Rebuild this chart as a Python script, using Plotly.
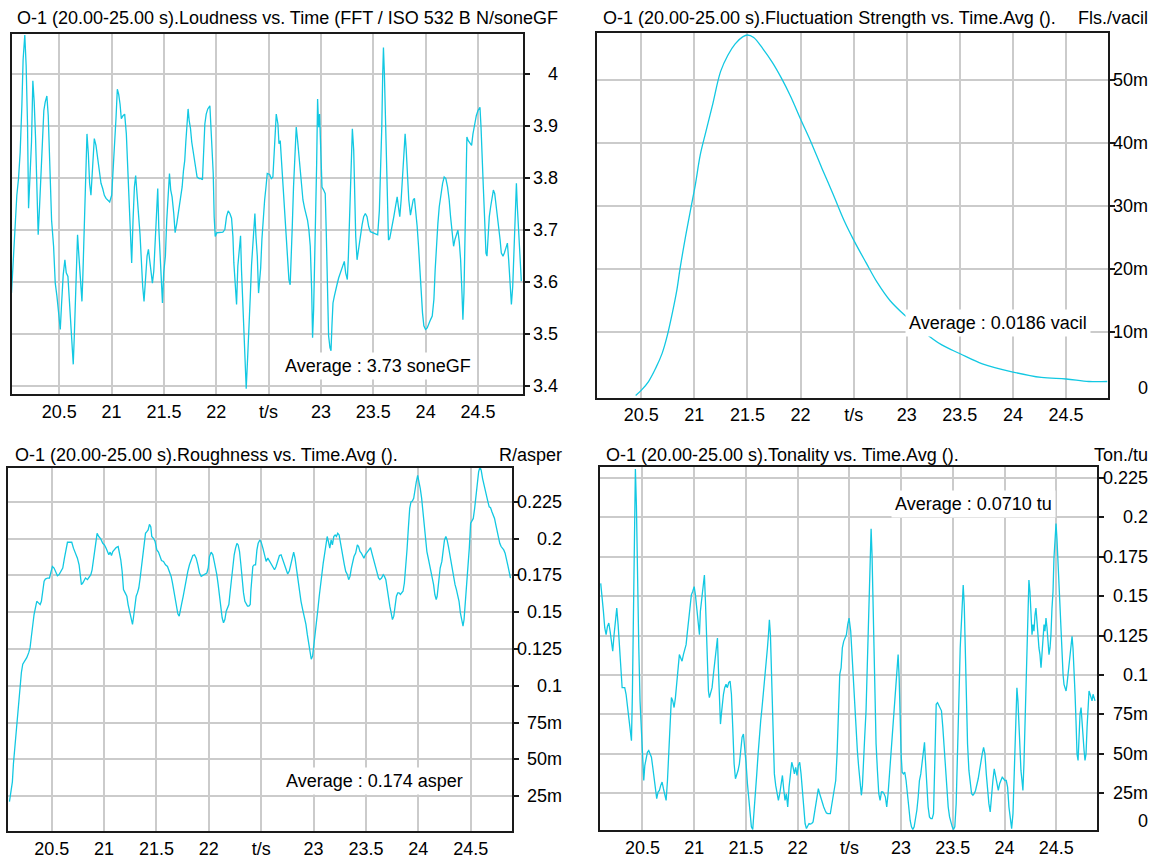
import plotly.graph_objects as go

W, H = 1158, 859
CYAN = "#12c8e2"
FONT = "Liberation Sans, Arial, sans-serif"

# ---------------- data ----------------
loud_t = [20.044,20.053,20.063,20.079,20.095,20.111,20.127,20.143,20.155,20.171,20.184,20.197,20.207,20.219,20.235,20.248,20.261,20.274,20.286,20.299,
20.312,20.325,20.341,20.353,20.366,20.382,20.395,20.411,20.427,20.446,20.462,20.478,20.494,20.510,20.522,20.538,20.554,20.567,20.583,20.599,
20.612,20.624,20.634,20.644,20.653,20.666,20.675,20.688,20.701,20.717,20.726,20.739,20.752,20.765,20.778,20.790,20.803,20.819,20.835,20.851,
20.867,20.883,20.899,20.915,20.931,20.947,20.963,20.982,21.001,21.014,21.026,21.042,21.055,21.068,21.081,21.093,21.109,21.125,21.141,21.154,
21.170,21.186,21.192,21.205,21.218,21.230,21.243,21.259,21.272,21.285,21.297,21.310,21.323,21.339,21.352,21.364,21.377,21.390,21.403,21.416,
21.428,21.441,21.451,21.463,21.476,21.486,21.498,21.514,21.527,21.540,21.553,21.565,21.578,21.594,21.607,21.623,21.639,21.655,21.674,21.687,
21.699,21.709,21.722,21.731,21.741,21.754,21.766,21.779,21.792,21.805,21.817,21.837,21.856,21.868,21.878,21.891,21.904,21.919,21.939,21.948,
21.958,21.971,21.980,21.990,22.006,22.031,22.063,22.082,22.098,22.114,22.130,22.146,22.159,22.168,22.181,22.194,22.206,22.219,22.232,22.241,
22.251,22.264,22.277,22.286,22.299,22.312,22.325,22.337,22.350,22.360,22.369,22.379,22.392,22.404,22.414,22.424,22.436,22.449,22.462,22.475,
22.487,22.510,22.526,22.541,22.557,22.573,22.589,22.599,22.611,22.627,22.643,22.655,22.668,22.681,22.694,22.706,22.716,22.726,22.738,22.751,
22.764,22.777,22.789,22.802,22.815,22.828,22.844,22.860,22.872,22.885,22.898,22.911,22.920,22.930,22.939,22.949,22.959,22.968,22.978,22.987,
22.997,23.010,23.026,23.041,23.051,23.061,23.073,23.086,23.096,23.105,23.115,23.128,23.140,23.153,23.169,23.185,23.204,23.223,23.236,23.252,
23.262,23.274,23.287,23.300,23.313,23.322,23.332,23.345,23.361,23.377,23.393,23.408,23.424,23.440,23.456,23.472,23.504,23.542,23.558,23.571,
23.581,23.590,23.597,23.606,23.616,23.625,23.635,23.645,23.657,23.670,23.683,23.696,23.712,23.728,23.740,23.753,23.766,23.779,23.791,23.804,
23.814,23.826,23.839,23.855,23.868,23.881,23.893,23.906,23.919,23.932,23.945,23.957,23.970,23.983,23.999,24.015,24.031,24.047,24.063,24.079,
24.091,24.104,24.117,24.130,24.146,24.162,24.177,24.193,24.209,24.225,24.238,24.254,24.267,24.280,24.292,24.308,24.321,24.334,24.347,24.356,
24.366,24.375,24.385,24.394,24.407,24.423,24.439,24.452,24.468,24.484,24.500,24.519,24.529,24.538,24.551,24.564,24.576,24.586,24.596,24.608,
24.621,24.634,24.647,24.660,24.672,24.685,24.698,24.711,24.723,24.739,24.752,24.768,24.781,24.793,24.806,24.819,24.832,24.841,24.854,24.867,
24.876,24.889,24.902,24.914]
loud_v = [3.578,3.61,3.667,3.728,3.766,3.798,3.849,3.938,4.027,4.074,4.015,3.903,3.741,3.795,3.868,3.986,3.945,3.875,3.801,3.69,
3.744,3.814,3.89,3.929,3.945,3.957,3.919,3.82,3.718,3.668,3.597,3.572,3.54,3.508,3.556,3.613,3.642,3.617,3.61,3.553,
3.521,3.473,3.441,3.496,3.566,3.649,3.69,3.649,3.597,3.562,3.613,3.721,3.83,3.884,3.846,3.789,3.766,3.833,3.875,3.862,
3.836,3.808,3.789,3.779,3.766,3.76,3.757,3.753,3.766,3.808,3.865,3.913,3.97,3.96,3.941,3.913,3.919,3.922,3.884,3.82,
3.744,3.674,3.636,3.718,3.782,3.804,3.757,3.725,3.69,3.632,3.591,3.562,3.61,3.649,3.662,3.643,3.623,3.597,3.62,3.687,
3.742,3.779,3.704,3.662,3.597,3.559,3.617,3.649,3.718,3.769,3.808,3.776,3.763,3.731,3.694,3.712,3.734,3.75,3.782,3.814,
3.833,3.868,3.903,3.932,3.91,3.894,3.868,3.849,3.836,3.82,3.801,3.798,3.798,3.796,3.852,3.903,3.922,3.932,3.938,3.897,
3.859,3.808,3.725,3.687,3.694,3.695,3.695,3.7,3.725,3.736,3.731,3.722,3.687,3.636,3.582,3.556,3.63,3.664,3.688,3.623,
3.578,3.511,3.451,3.394,3.451,3.499,3.572,3.632,3.671,3.712,3.731,3.687,3.649,3.578,3.597,3.626,3.681,3.731,3.757,3.782,
3.808,3.806,3.798,3.801,3.878,3.922,3.903,3.865,3.871,3.82,3.769,3.718,3.674,3.642,3.604,3.594,3.642,3.706,3.782,3.846,
3.897,3.871,3.846,3.814,3.782,3.757,3.741,3.728,3.718,3.699,3.668,3.586,3.492,3.546,3.623,3.731,3.827,3.951,3.897,3.922,
3.846,3.782,3.776,3.769,3.693,3.604,3.496,3.473,3.467,3.515,3.559,3.572,3.586,3.594,3.607,3.617,3.629,3.639,3.617,3.604,
3.649,3.744,3.833,3.894,3.852,3.737,3.687,3.642,3.668,3.693,3.709,3.725,3.731,3.725,3.706,3.696,3.693,3.69,3.737,3.814,
3.897,3.999,4.05,3.999,3.91,3.82,3.737,3.68,3.683,3.696,3.706,3.725,3.744,3.763,3.744,3.725,3.757,3.808,3.852,3.884,
3.855,3.808,3.757,3.728,3.744,3.757,3.76,3.737,3.706,3.668,3.623,3.578,3.54,3.515,3.508,3.511,3.521,3.527,3.534,3.566,
3.623,3.674,3.712,3.744,3.769,3.789,3.801,3.798,3.782,3.757,3.725,3.694,3.668,3.681,3.69,3.699,3.677,3.642,3.578,3.527,
3.578,3.694,3.801,3.878,3.871,3.865,3.862,3.884,3.903,3.919,3.929,3.935,3.897,3.833,3.782,3.718,3.655,3.649,3.694,3.725,
3.744,3.763,3.776,3.769,3.75,3.731,3.712,3.681,3.655,3.649,3.655,3.664,3.674,3.642,3.591,3.556,3.591,3.642,3.744,3.789,
3.744,3.694,3.649,3.601]

fls_t = [20.448,20.5,20.569,20.639,20.698,20.743,20.795,20.837,20.865,20.917,20.969,21.01,21.056,21.108,21.17,21.247,21.316,21.385,21.455,21.5,
21.559,21.646,21.733,21.819,21.906,22.0,22.097,22.201,22.306,22.41,22.507,22.618,22.722,22.844,23.0,23.156,23.33,23.503,23.712,24.0,
24.267,24.5,24.715,24.89]
fls_v = [0.0,0.0008,0.0022,0.0044,0.0067,0.0093,0.0132,0.0168,0.0200,0.0251,0.0298,0.0334,0.0381,0.0417,0.0459,0.0513,0.0539,0.0557,0.0568,0.0571,
0.0567,0.0549,0.0528,0.0503,0.0474,0.0438,0.0402,0.0360,0.0319,0.0277,0.0244,0.0210,0.0179,0.0150,0.0124,0.0101,0.0080,0.0066,0.0050,0.0037,
0.00285,0.0026,0.0022,0.0022]

rough_t = [20.096,20.111,20.124,20.134,20.146,20.159,20.169,20.185,20.197,20.21,20.223,20.242,20.261,20.28,20.293,20.306,20.318,20.331,20.344,20.357,
20.373,20.389,20.401,20.414,20.427,20.439,20.459,20.478,20.49,20.506,20.522,20.538,20.554,20.57,20.586,20.605,20.621,20.637,20.65,20.669,
20.691,20.707,20.726,20.745,20.761,20.771,20.783,20.796,20.809,20.822,20.841,20.857,20.873,20.885,20.898,20.911,20.924,20.933,20.949,20.968,
20.987,21.003,21.019,21.032,21.045,21.057,21.07,21.083,21.096,21.115,21.134,21.146,21.159,21.172,21.185,21.201,21.217,21.229,21.242,21.252,
21.261,21.271,21.28,21.293,21.306,21.318,21.331,21.344,21.357,21.369,21.382,21.395,21.408,21.42,21.433,21.446,21.455,21.471,21.487,21.503,
21.519,21.535,21.548,21.567,21.586,21.605,21.624,21.64,21.653,21.666,21.678,21.691,21.704,21.717,21.729,21.742,21.755,21.768,21.783,21.799,
21.815,21.831,21.847,21.863,21.879,21.895,21.911,21.927,21.943,21.962,21.981,21.994,22.006,22.022,22.038,22.051,22.064,22.076,22.089,22.102,
22.115,22.127,22.14,22.153,22.166,22.178,22.191,22.204,22.217,22.229,22.242,22.255,22.268,22.28,22.293,22.306,22.318,22.331,22.344,22.357,
22.369,22.382,22.395,22.401,22.41,22.42,22.433,22.446,22.459,22.471,22.487,22.5,22.516,22.532,22.547,22.563,22.579,22.595,22.611,22.627,
22.642,22.658,22.674,22.69,22.706,22.722,22.737,22.753,22.769,22.785,22.801,22.81,22.823,22.835,22.848,22.864,22.88,22.896,22.911,22.927,
22.94,22.953,22.965,22.978,22.991,23.003,23.016,23.028,23.041,23.054,23.066,23.079,23.092,23.104,23.117,23.13,23.142,23.155,23.168,23.18,
23.193,23.206,23.218,23.231,23.244,23.256,23.269,23.282,23.294,23.307,23.323,23.335,23.348,23.361,23.373,23.386,23.402,23.418,23.43,23.443,
23.456,23.468,23.481,23.494,23.506,23.519,23.532,23.544,23.557,23.57,23.582,23.595,23.608,23.62,23.633,23.649,23.665,23.677,23.69,23.703,
23.715,23.728,23.741,23.753,23.766,23.778,23.791,23.804,23.816,23.829,23.842,23.854,23.867,23.88,23.892,23.905,23.918,23.93,23.943,23.956,
23.968,23.981,23.994,24.006,24.019,24.032,24.044,24.057,24.07,24.082,24.095,24.108,24.12,24.133,24.146,24.158,24.171,24.18,24.193,24.209,
24.225,24.237,24.25,24.263,24.275,24.288,24.301,24.313,24.326,24.339,24.351,24.364,24.377,24.389,24.402,24.415,24.427,24.437,24.449,24.462,
24.475,24.487,24.5,24.513,24.525,24.538,24.551,24.563,24.576,24.589,24.601,24.614,24.627,24.639,24.652,24.665,24.677,24.69,24.703,24.715,
24.728,24.741,24.753,24.766,24.778,24.791,24.804,24.816,24.829,24.842,24.854,24.867,24.88]
rough_v = [0.0212,0.028,0.0347,0.047,0.0572,0.0696,0.0775,0.0876,0.1,0.109,0.1146,0.1169,0.1191,0.1225,0.1259,0.1338,0.1417,0.1484,0.1529,0.1574,
0.1563,0.1552,0.1574,0.1631,0.171,0.1725,0.1732,0.1732,0.1766,0.1811,0.18,0.1766,0.1748,0.1755,0.1777,0.18,0.1867,0.1935,0.1975,0.1975,
0.1975,0.1935,0.1901,0.1867,0.1822,0.1755,0.1687,0.1698,0.1721,0.1732,0.1721,0.1736,0.1755,0.1788,0.1856,0.1935,0.2014,0.2036,0.2014,0.1998,
0.1968,0.1957,0.1935,0.1908,0.189,0.1908,0.1885,0.1912,0.1923,0.1939,0.1946,0.1912,0.1856,0.1777,0.1653,0.1631,0.1608,0.1552,0.1507,0.1462,
0.1439,0.1417,0.1462,0.1529,0.1608,0.1631,0.1664,0.1732,0.1822,0.1901,0.198,0.2036,0.2047,0.2059,0.2097,0.208,0.2014,0.2002,0.198,0.1923,
0.1908,0.1878,0.1851,0.1845,0.1822,0.1811,0.1777,0.1743,0.1698,0.1642,0.1586,0.1529,0.1489,0.1473,0.1507,0.1563,0.1608,0.1664,0.1721,0.1777,
0.1822,0.1856,0.1885,0.189,0.1867,0.1822,0.1766,0.1743,0.175,0.1755,0.1766,0.18,0.1878,0.1908,0.189,0.1845,0.18,0.1755,0.1687,0.1597,
0.1507,0.1462,0.1428,0.145,0.1507,0.1529,0.1552,0.1642,0.1732,0.1822,0.189,0.1935,0.1968,0.1957,0.1912,0.1822,0.171,0.1631,0.1574,0.1552,
0.1541,0.1541,0.1552,0.1642,0.1755,0.1811,0.1822,0.1822,0.1923,0.1968,0.1991,0.1975,0.1935,0.1878,0.1845,0.1867,0.1845,0.1822,0.18,0.1788,
0.1811,0.1856,0.1885,0.189,0.1856,0.1811,0.1782,0.1759,0.1782,0.1833,0.189,0.1908,0.1867,0.18,0.1732,0.1642,0.1574,0.1518,0.1473,0.1417,
0.1349,0.1282,0.1214,0.118,0.1203,0.127,0.1349,0.1439,0.1518,0.1608,0.1687,0.1766,0.1833,0.189,0.1957,0.2014,0.198,0.1935,0.1991,0.1957,
0.2014,0.2025,0.2014,0.2036,0.2025,0.1968,0.1935,0.1878,0.1822,0.1777,0.1755,0.1721,0.1743,0.18,0.1845,0.1878,0.1901,0.1957,0.1946,0.1912,
0.1901,0.1878,0.1867,0.189,0.1901,0.1908,0.1923,0.1939,0.1901,0.1867,0.1833,0.18,0.1755,0.1732,0.1721,0.1732,0.1755,0.1743,0.1721,0.1653,
0.1597,0.1541,0.1495,0.145,0.1473,0.1552,0.1608,0.1631,0.1631,0.162,0.1631,0.1642,0.1698,0.18,0.1923,0.207,0.2205,0.225,0.2255,0.2273,
0.234,0.2385,0.243,0.2396,0.234,0.2273,0.2182,0.207,0.198,0.1912,0.1867,0.1822,0.1777,0.1732,0.1687,0.162,0.1586,0.1608,0.171,0.18,
0.1845,0.1912,0.1991,0.2014,0.1991,0.1946,0.189,0.1833,0.1777,0.1732,0.1687,0.1653,0.162,0.1574,0.1495,0.1439,0.1405,0.145,0.1552,0.1664,
0.1777,0.1935,0.2104,0.2126,0.2137,0.2205,0.2295,0.2385,0.2453,0.2487,0.2464,0.2408,0.2363,0.2329,0.2284,0.225,0.2216,0.221,0.2182,0.216,
0.2137,0.2092,0.2047,0.2002,0.1968,0.1946,0.1935,0.1923,0.1901,0.1867,0.1822,0.1777,0.1732]

ton_t = [20.097,20.110,20.123,20.136,20.149,20.162,20.175,20.188,20.2,20.213,20.226,20.239,20.252,20.265,20.278,20.291,20.304,20.316,20.329,20.342,
20.355,20.368,20.381,20.394,20.403,20.413,20.423,20.432,20.442,20.452,20.465,20.477,20.49,20.503,20.513,20.523,20.535,20.548,20.561,20.574,
20.587,20.6,20.613,20.626,20.638,20.651,20.664,20.677,20.69,20.703,20.716,20.729,20.742,20.754,20.767,20.78,20.793,20.806,20.819,20.832,
20.845,20.857,20.87,20.883,20.896,20.909,20.922,20.935,20.948,20.961,20.973,20.986,21.0,21.012,21.025,21.038,21.051,21.06,21.07,21.08,
21.089,21.099,21.109,21.118,21.128,21.138,21.147,21.16,21.173,21.186,21.199,21.212,21.225,21.234,21.244,21.254,21.263,21.273,21.283,21.295,
21.308,21.321,21.334,21.347,21.36,21.373,21.386,21.399,21.411,21.424,21.437,21.45,21.463,21.476,21.489,21.502,21.515,21.527,21.54,21.553,
21.566,21.579,21.592,21.605,21.618,21.63,21.643,21.656,21.669,21.682,21.695,21.708,21.718,21.727,21.737,21.746,21.756,21.766,21.775,21.788,
21.801,21.814,21.827,21.84,21.853,21.865,21.878,21.891,21.904,21.917,21.93,21.943,21.956,21.969,21.981,21.994,22.007,22.02,22.033,22.046,
22.059,22.072,22.085,22.097,22.11,22.123,22.136,22.149,22.162,22.175,22.188,22.2,22.213,22.226,22.239,22.252,22.265,22.278,22.291,22.304,
22.316,22.329,22.342,22.355,22.368,22.381,22.394,22.407,22.42,22.432,22.445,22.458,22.471,22.484,22.497,22.513,22.526,22.539,22.552,22.565,
22.577,22.59,22.603,22.616,22.626,22.635,22.648,22.661,22.671,22.681,22.69,22.7,22.71,22.719,22.729,22.739,22.748,22.758,22.771,22.784,
22.797,22.81,22.823,22.835,22.848,22.861,22.874,22.887,22.9,22.913,22.926,22.939,22.952,22.961,22.971,22.981,22.99,23.0,23.01,23.023,
23.035,23.048,23.061,23.074,23.087,23.1,23.113,23.126,23.139,23.152,23.165,23.177,23.19,23.203,23.216,23.226,23.235,23.248,23.261,23.274,
23.287,23.3,23.313,23.326,23.339,23.352,23.365,23.377,23.39,23.403,23.416,23.429,23.442,23.455,23.468,23.481,23.494,23.506,23.519,23.532,
23.545,23.558,23.571,23.581,23.59,23.6,23.61,23.619,23.629,23.642,23.655,23.668,23.681,23.694,23.706,23.719,23.732,23.745,23.758,23.771,
23.784,23.797,23.81,23.823,23.835,23.848,23.861,23.874,23.887,23.9,23.913,23.926,23.939,23.952,23.965,23.977,23.99,24.003,24.016,24.029,
24.042,24.055,24.068,24.081,24.09,24.1,24.11,24.119,24.129,24.139,24.148,24.158,24.168,24.177,24.187,24.197,24.206,24.216,24.226,24.235,
24.245,24.255,24.265,24.274,24.284,24.294,24.303,24.313,24.323,24.332,24.342,24.352,24.361,24.371,24.381,24.39,24.4,24.41,24.419,24.429,
24.439,24.448,24.458,24.468,24.477,24.487,24.497,24.506,24.516,24.526,24.535,24.545,24.555,24.565,24.574,24.584,24.594,24.603,24.613,24.623,
24.632,24.642,24.652,24.661,24.671,24.681,24.69,24.7,24.71,24.719,24.729,24.739,24.748,24.758,24.768,24.777,24.787,24.797,24.806,24.816,
24.826,24.835,24.845,24.855,24.865,24.874]
ton_v = [0.1581,0.1508,0.1403,0.1298,0.1255,0.1308,0.1329,0.1276,0.1192,0.115,0.1255,0.1371,0.1424,0.1319,0.1171,0.1003,0.0919,0.0919,0.0919,0.0877,
0.0793,0.0709,0.0625,0.0583,0.0877,0.1445,0.2023,0.2307,0.2075,0.1613,0.1171,0.0835,0.0625,0.0457,0.033,0.0425,0.0457,0.0509,0.052,0.0499,
0.0478,0.0414,0.033,0.0246,0.0215,0.0257,0.0267,0.0299,0.032,0.0278,0.0236,0.0204,0.033,0.052,0.0751,0.0856,0.0835,0.0793,0.0856,0.0961,
0.1066,0.1129,0.1108,0.1087,0.1129,0.1161,0.1192,0.1276,0.1361,0.1445,0.1508,0.1529,0.156,0.1508,0.1424,0.134,0.1255,0.1403,0.1466,0.1529,
0.1571,0.1634,0.1466,0.1255,0.1045,0.0898,0.0856,0.0887,0.0919,0.1003,0.1087,0.1171,0.1234,0.1045,0.0835,0.0688,0.0751,0.0835,0.0877,0.0919,
0.094,0.0919,0.0951,0.0961,0.0877,0.0667,0.0436,0.0341,0.0362,0.0393,0.0436,0.052,0.0604,0.0625,0.0551,0.0436,0.0309,0.0204,0.0109,0.0036,
0.0019,0.012,0.0246,0.0372,0.0499,0.0625,0.0709,0.0793,0.0877,0.0961,0.1045,0.1171,0.1255,0.135,0.1255,0.1045,0.0835,0.0583,0.0372,0.0299,
0.0246,0.0204,0.0246,0.0309,0.0362,0.0278,0.0204,0.0246,0.0162,0.0288,0.0393,0.0446,0.0414,0.0372,0.0414,0.0362,0.0425,0.0446,0.0372,0.0267,
0.0162,0.0057,0.0025,0.0046,0.0057,0.0053,0.0057,0.0067,0.012,0.0183,0.0246,0.0278,0.0246,0.0215,0.0183,0.0162,0.0141,0.0124,0.012,0.012,
0.012,0.0173,0.0225,0.0267,0.033,0.0499,0.0772,0.1003,0.1045,0.1171,0.1213,0.1234,0.1255,0.1319,0.1361,0.1277,0.1108,0.0919,0.0793,0.0625,
0.052,0.0414,0.0309,0.0236,0.0299,0.0477,0.0604,0.0772,0.1024,0.1255,0.1403,0.1718,0.1928,0.176,0.1445,0.1087,0.0793,0.0562,0.0394,0.0246,
0.0204,0.0257,0.0257,0.0246,0.0225,0.0162,0.0246,0.0372,0.0499,0.0625,0.0751,0.0877,0.1003,0.1087,0.1129,0.0982,0.073,0.0499,0.0383,0.0372,
0.0383,0.033,0.0246,0.0141,0.0078,0.0036,0.0019,0.0036,0.0078,0.0141,0.0225,0.033,0.0372,0.0457,0.054,0.0572,0.0457,0.0309,0.0162,0.0099,
0.0088,0.0088,0.012,0.0457,0.0814,0.0824,0.0803,0.0793,0.0772,0.0667,0.054,0.0372,0.0246,0.0162,0.0099,0.0057,0.0036,0.0019,0.0036,0.0183,
0.0457,0.0835,0.1171,0.1319,0.1466,0.1571,0.1445,0.1171,0.0835,0.0562,0.0394,0.0299,0.0246,0.0236,0.0246,0.0267,0.0299,0.0341,0.0394,0.0457,
0.0499,0.054,0.0499,0.0372,0.0246,0.0183,0.013,0.0246,0.033,0.0404,0.0362,0.0309,0.0267,0.0309,0.033,0.0351,0.0341,0.033,0.033,0.0288,
0.0162,0.0078,0.0025,0.012,0.033,0.054,0.0814,0.0919,0.0835,0.0667,0.0499,0.0394,0.033,0.0267,0.0436,0.0667,0.0919,0.1255,0.1466,0.1602,
0.1529,0.1403,0.1255,0.1319,0.1277,0.1382,0.1424,0.134,0.1234,0.1171,0.1129,0.1045,0.1129,0.1255,0.1319,0.1277,0.1361,0.1298,0.1213,0.1129,
0.1171,0.1255,0.1424,0.1529,0.1739,0.1823,0.196,0.1865,0.1718,0.155,0.1403,0.1234,0.1087,0.1003,0.094,0.0919,0.0898,0.094,0.1003,0.1066,
0.1129,0.1171,0.1245,0.1171,0.1045,0.0877,0.0709,0.0499,0.0457,0.0625,0.0751,0.0793,0.0688,0.0625,0.052,0.0457,0.0499,0.0667,0.0814,0.0898,
0.0877,0.0856,0.0835,0.0877,0.0846,0.0835]

x_tickvals = [20.5, 21, 21.5, 22, 22.5, 23, 23.5, 24, 24.5]
x_ticktext = ["20.5", "21", "21.5", "22", "t/s", "23", "23.5", "24", "24.5"]

titles = ["O-1 (20.00-25.00 s).Loudness vs. Time (FFT / ISO 532 B",
          "O-1 (20.00-25.00 s).Fluctuation Strength vs. Time.Avg ().",
          "O-1 (20.00-25.00 s).Roughness vs. Time.Avg ().",
          "O-1 (20.00-25.00 s).Tonality vs. Time.Avg ()."]
units = ["N/soneGF", "Fls./vacil", "R/asper", "Ton./tu"]
averages = ["Average : 3.73 soneGF", "Average : 0.0186 vacil",
            "Average : 0.174 asper", "Average : 0.0710 tu"]

loud_ticks = [3.4, 3.5, 3.6, 3.7, 3.8, 3.9, 4.0]
loud_labels = ["3.4", "3.5", "3.6", "3.7", "3.8", "3.9", "4"]
fls_ticks = [0, 0.01, 0.02, 0.03, 0.04, 0.05]
fls_labels = ["0", "10m", "20m", "30m", "40m", "50m"]
rough_ticks = [0.025, 0.05, 0.075, 0.1, 0.125, 0.15, 0.175, 0.2, 0.225]
rough_labels = ["25m", "50m", "75m", "0.1", "0.125", "0.15", "0.175", "0.2", "0.225"]
ton_ticks = [0, 0.025, 0.05, 0.075, 0.1, 0.125, 0.15, 0.175, 0.2, 0.225]
ton_labels = ["0", "25m", "50m", "75m", "0.1", "0.125", "0.15", "0.175", "0.2", "0.225"]

# ---------------- layout geometry (pixels) ----------------
def px(x):
    return x / W

def py(y):
    return 1 - y / H

panels = [
    dict(t=loud_t, v=loud_v, ticks=loud_ticks, labels=loud_labels,
         box=(11.6, 523, 33.7, 396.3), xr=[20.045, 24.93], yr=[3.384, 4.077],
         lab_r=560, title_x=15, title_y=18, avg_xy=(281, 368), zlift=0, smooth=False),
    dict(t=fls_t, v=fls_v, ticks=fls_ticks, labels=fls_labels,
         box=(597, 1107.5, 33.3, 400), xr=[20.084, 24.89], yr=[-0.00036, 0.0574],
         lab_r=1150, title_x=601, title_y=18, avg_xy=(905, 325), zlift=10, smooth=True),
    dict(t=rough_t, v=rough_v, ticks=rough_ticks, labels=rough_labels,
         box=(8.3, 511.5, 470.7, 836.3), xr=[20.085, 24.89], yr=[0.001, 0.248],
         lab_r=564, title_x=13, title_y=458, avg_xy=(282, 786), zlift=0, smooth=False),
    dict(t=ton_t, v=ton_v, ticks=ton_ticks, labels=ton_labels,
         box=(600, 1097, 469.3, 835), xr=[20.09, 24.893], yr=[0.0015, 0.2322],
         lab_r=1150, title_x=604, title_y=458, avg_xy=(891, 507), zlift=9, smooth=False),
]

fig = go.Figure()
annotations = []
layout_axes = {}
txtfont = dict(family=FONT, size=18, color="#000000")

for i, p in enumerate(panels):
    n = i + 1
    xa = "xaxis" if n == 1 else f"xaxis{n}"
    ya = "yaxis" if n == 1 else f"yaxis{n}"
    xr_ = "x" if n == 1 else f"x{n}"
    yr_ = "y" if n == 1 else f"y{n}"
    x0, x1, ytop, ybot = p["box"]
    fig.add_trace(go.Scatter(
        x=p["t"], y=p["v"], mode="lines", xaxis=xr_, yaxis=yr_,
        line=dict(color=CYAN, width=1.3, shape="spline" if p["smooth"] else "linear"),
        showlegend=False, hoverinfo="skip"))
    inrange = [tv for tv in p["ticks"] if p["yr"][0] < tv < p["yr"][1] and tv != 0]
    layout_axes[xa] = dict(
        domain=[px(x0), px(x1)], anchor=yr_, range=p["xr"],
        tickmode="array", tickvals=x_tickvals, ticktext=x_ticktext,
        showgrid=True, gridcolor="#cbcbcb", gridwidth=1.5,
        showline=True, linecolor="#1a1a1a", linewidth=2, mirror=True,
        ticks="", zeroline=False, tickfont=txtfont, fixedrange=True)
    layout_axes[ya] = dict(
        domain=[py(ybot), py(ytop)], anchor=xr_, range=p["yr"], side="right",
        tickmode="array", tickvals=inrange, showticklabels=False,
        ticks="outside", ticklen=5, tickwidth=1.5, tickcolor="#1a1a1a",
        showgrid=True, gridcolor="#cbcbcb", gridwidth=1.5,
        showline=True, linecolor="#1a1a1a", linewidth=2, mirror=True,
        zeroline=False, fixedrange=True)
    # y tick labels, right aligned; a zero label sitting at the axis floor is lifted inside
    for tv, tl in zip(p["ticks"], p["labels"]):
        if tv == 0:
            annotations.append(dict(
                xref="paper", yref="paper", x=px(p["lab_r"]), y=py(ybot), text=tl,
                xanchor="right", yanchor="middle", showarrow=False, font=txtfont,
                yshift=p["zlift"]))
        else:
            annotations.append(dict(
                xref="paper", yref=yr_, x=px(p["lab_r"]), y=tv, text=tl,
                xanchor="right", yanchor="middle", showarrow=False, font=txtfont))
    # title and unit
    annotations.append(dict(xref="paper", yref="paper", x=px(p["title_x"]), y=py(p["title_y"]),
                            text=titles[i], xanchor="left", yanchor="middle",
                            showarrow=False, font=txtfont))
    annotations.append(dict(xref="paper", yref="paper", x=px(p["lab_r"]), y=py(p["title_y"]),
                            text=units[i], xanchor="right", yanchor="middle",
                            showarrow=False, font=txtfont))
    # average box
    ax, ay = p["avg_xy"]
    annotations.append(dict(xref="paper", yref="paper", x=px(ax), y=py(ay),
                            text=averages[i], xanchor="left", yanchor="middle",
                            showarrow=False, font=txtfont, bgcolor="#ffffff", borderpad=3))

fig.update_layout(
    width=W, height=H, margin=dict(l=0, r=0, t=0, b=0),
    paper_bgcolor="#ffffff", plot_bgcolor="#ffffff",
    font=txtfont, annotations=annotations, showlegend=False,
    **layout_axes)

fig.write_html("out.html", config={"displayModeBar": False},
               post_script="document.body.style.margin='0';document.body.style.overflow='hidden';")
